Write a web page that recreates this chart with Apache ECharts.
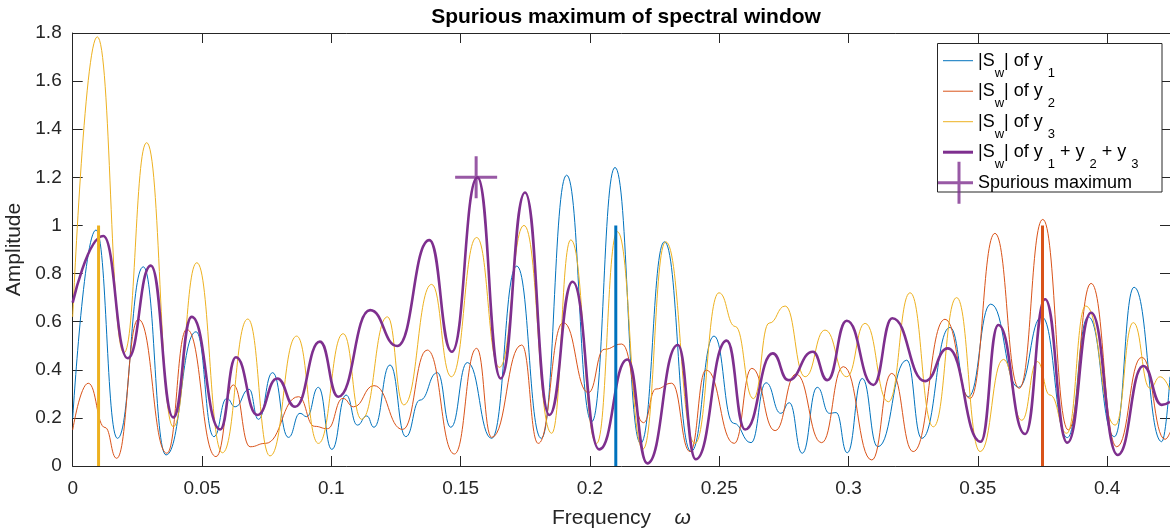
<!DOCTYPE html>
<html>
<head>
<meta charset="utf-8">
<title>Spurious maximum of spectral window</title>
<script src="https://cdn.jsdelivr.net/npm/echarts@6/dist/echarts.min.js"></script>
<style>
html, body { margin: 0; padding: 0; background: #fff; }
#chart { width: 1170px; height: 529px; }
</style>
</head>
<body>
<div id="chart"></div>
<script>
// peaks / troughs, [frequency, amplitude]
var y1Data = [
  [0, 0.198], [0.009, 0.981], [0.0173, 0.115], [0.0273, 0.828], [0.0361, 0.046], [0.0477, 0.558],
  [0.0546, 0.122], [0.0596, 0.281], [0.0628, 0.246], [0.0682, 0.319], [0.0718, 0.194], [0.0773, 0.388],
  [0.0834, 0.119], [0.0879, 0.219], [0.0905, 0.205], [0.095, 0.327], [0.1002, 0.069], [0.1057, 0.295],
  [0.1101, 0.170], [0.1137, 0.208], [0.1165, 0.161], [0.1227, 0.42], [0.1288, 0.122], [0.1343, 0.274],
  [0.141, 0.388], [0.1462, 0.161], [0.1526, 0.43], [0.162, 0.115], [0.1717, 0.831], [0.1812, 0.115],
  [0.191, 1.209], [0.2007, 0.184], [0.2097, 1.241], [0.2196, 0.094], [0.2288, 0.932], [0.2391, 0.06],
  [0.248, 0.54], [0.2555, 0.178], [0.2623, 0.097], [0.2681, 0.346], [0.2738, 0.219], [0.2771, 0.263],
  [0.2821, 0.053], [0.2879, 0.327], [0.2926, 0.219], [0.2952, 0.222], [0.2995, 0.055], [0.3053, 0.364],
  [0.3113, 0.08], [0.3225, 0.44], [0.3283, 0.115], [0.3392, 0.576], [0.3463, 0.288], [0.355, 0.673],
  [0.3657, 0.327], [0.3747, 0.62], [0.3846, 0.118], [0.3927, 0.62], [0.4028, 0.122], [0.4104, 0.743],
  [0.4211, 0.101], [0.4243, 0.371]
];
var y2Data = [
  [0, 0.15], [0.006, 0.344], [0.0125, 0.16], [0.017, 0.032], [0.0254, 0.61], [0.0364, 0.053],
  [0.0441, 0.568], [0.0554, 0.039], [0.0621, 0.337], [0.0686, 0.08], [0.0745, 0.094], [0.0873, 0.288],
  [0.0935, 0.165], [0.0985, 0.155], [0.1045, 0.281], [0.1086, 0.246], [0.1165, 0.334], [0.1276, 0.152],
  [0.1371, 0.482], [0.1476, 0.05], [0.1562, 0.489], [0.162, 0.119], [0.1736, 0.503], [0.18, 0.094],
  [0.1897, 0.596], [0.1994, 0.305], [0.2055, 0.485], [0.2123, 0.507], [0.2207, 0.18], [0.2255, 0.32],
  [0.2316, 0.344], [0.2387, 0.06], [0.2449, 0.399], [0.2558, 0.094], [0.2626, 0.406], [0.2716, 0.147],
  [0.2797, 0.382], [0.2896, 0.097], [0.298, 0.413], [0.309, 0.025], [0.3167, 0.385], [0.325, 0.06],
  [0.3373, 0.61], [0.347, 0.281], [0.3566, 0.967], [0.366, 0.323], [0.3751, 1.025], [0.385, 0.15],
  [0.3938, 0.759], [0.4037, 0.08], [0.4134, 0.452], [0.4224, 0.111], [0.4243, 0.14]
];
var y3Data = [
  [0, 0.62], [0.0095, 1.784], [0.0198, 0.47], [0.0286, 1.344], [0.0389, 0.163], [0.048, 0.845],
  [0.0579, 0.055], [0.0677, 0.611], [0.0763, 0.042], [0.0866, 0.54], [0.095, 0.094], [0.1046, 0.55],
  [0.1117, 0.194], [0.1217, 0.62], [0.128, 0.254], [0.1388, 0.755], [0.1464, 0.371], [0.1562, 0.95],
  [0.165, 0.41], [0.1745, 1.0], [0.1852, 0.136], [0.1926, 0.94], [0.2026, 0.094], [0.2106, 0.974],
  [0.2205, 0.07], [0.2293, 0.932], [0.2406, 0.094], [0.2499, 0.72], [0.2562, 0.58], [0.2632, 0.28],
  [0.2693, 0.594], [0.2755, 0.665], [0.2832, 0.371], [0.2909, 0.565], [0.2993, 0.371], [0.3064, 0.593],
  [0.3154, 0.267], [0.3238, 0.72], [0.3328, 0.163], [0.3418, 0.70], [0.3509, 0.06], [0.3599, 0.443],
  [0.367, 0.19], [0.373, 0.434], [0.3779, 0.295], [0.3844, 0.136], [0.3917, 0.665], [0.4031, 0.17],
  [0.4101, 0.596], [0.4166, 0.323], [0.4205, 0.371], [0.4243, 0.316]
];
var sumData = [
  [0, 0.679], [0.0118, 0.956], [0.0213, 0.448], [0.0302, 0.833], [0.0389, 0.202], [0.046, 0.62],
  [0.057, 0.152], [0.0631, 0.452], [0.0714, 0.212], [0.0791, 0.364], [0.086, 0.246], [0.0956, 0.517],
  [0.1027, 0.288], [0.115, 0.648], [0.1255, 0.499], [0.1379, 0.939], [0.1466, 0.475], [0.1565, 1.20],
  [0.1655, 0.364], [0.1749, 1.137], [0.1843, 0.212], [0.1933, 0.766], [0.2036, 0.069], [0.2145, 0.443],
  [0.2222, 0.011], [0.234, 0.503], [0.2409, 0.028], [0.2529, 0.521], [0.26, 0.152], [0.2707, 0.468],
  [0.2767, 0.357], [0.2862, 0.475], [0.2918, 0.357], [0.2993, 0.604], [0.3096, 0.337], [0.3169, 0.614],
  [0.3296, 0.353], [0.3384, 0.489], [0.3511, 0.101], [0.3579, 0.586], [0.3683, 0.133], [0.376, 0.693],
  [0.3846, 0.097], [0.3938, 0.637], [0.4041, 0.046], [0.414, 0.416], [0.4211, 0.254], [0.4243, 0.267]
];
// true frequencies of y3, y1, y2 (unit amplitude stems)
var stemFreq = [0.01, 0.21, 0.375];
var stemAmp = 1;
var spuriousMax = [0.156, 1.2];

var xTicks = 0.05, xMax = 0.4243;
var yTicks = 0.2, yMax = 1.8;

var colBlue = '#0072BD', colOrange = '#D95319', colYellow = '#EDB120', colPurple = '#7E2F8E';
var axisCol = '#262626';
var font = 'Liberation Sans, Arial, Helvetica, sans-serif';

var thinIcon = 'path://M0,0 M35,42 M5,20.5 L35,20.5 L35,21.5 L5,21.5 Z';
var thickIcon = 'path://M0,0 M35,42 M5,19.5 L35,19.5 L35,22.5 L5,22.5 Z';
var plusIcon = 'path://M0,19.5 L35,19.5 L35,22.5 L0,22.5 Z M19.5,0 L22.5,0 L22.5,42 L19.5,42 Z';
var plusMark = 'path://M0,19.5 L42,19.5 L42,22.5 L0,22.5 Z M19.5,0 L22.5,0 L22.5,42 L19.5,42 Z';

var legendText = {
  y1: '|S{s|w}| of y {s|1}',
  y2: '|S{s|w}| of y {s|2}',
  y3: '|S{s|w}| of y {s|3}',
  sum: '|S{s|w}| of y {s|1} + y {s|2} + y {s|3}',
  'Spurious maximum': 'Spurious maximum'
};

function stemSeries(f, color) {
  return {
    type: 'line', data: [[f, 0], [f, stemAmp]], symbol: 'none',
    lineStyle: { color: color, width: 3 }, itemStyle: { color: color }, z: 4
  };
}
function curve(name, data, color, width) {
  return {
    name: name, type: 'line', data: data, symbol: 'none',
    smooth: 0.5, smoothMonotone: 'x',
    lineStyle: { color: color, width: width }, itemStyle: { color: color }
  };
}

var tickAxis = {
  axisLine: { show: true, onZero: false, lineStyle: { color: axisCol, width: 1 } },
  axisTick: { show: true, inside: true, length: 10, lineStyle: { color: axisCol } },
  splitLine: { show: false }
};

var chart = echarts.init(document.getElementById('chart'));
chart.setOption({
  animation: false,
  backgroundColor: '#fff',
  title: {
    text: 'Spurious maximum of spectral window',
    left: 621, top: 2, textAlign: 'center',
    textStyle: { fontFamily: font, fontSize: 21, fontWeight: 'bold', color: '#000' }
  },
  grid: { left: 72.7, right: 0, top: 33, bottom: 63, containLabel: false, outerBoundsMode: 'none' },
  xAxis: [
    Object.assign({}, tickAxis, {
      type: 'value', min: 0, max: xMax, interval: xTicks, position: 'bottom',
      name: 'Frequency    {w|ω}', nameLocation: 'middle', nameGap: 42,
      nameTextStyle: { fontFamily: font, fontSize: 21, color: axisCol,
        rich: { w: { fontFamily: font, fontSize: 21, fontStyle: 'italic', color: axisCol } } },
      axisLabel: { fontFamily: font, fontSize: 19, color: axisCol, margin: 13, showMaxLabel: false }
    }),
    Object.assign({}, tickAxis, {
      type: 'value', min: 0, max: xMax, interval: xTicks, position: 'top',
      axisLabel: { show: false }
    })
  ],
  yAxis: [
    Object.assign({}, tickAxis, {
      type: 'value', min: 0, max: yMax, interval: yTicks, position: 'left',
      name: 'Amplitude', nameLocation: 'middle', nameGap: 44,
      nameTextStyle: { fontFamily: font, fontSize: 21, color: axisCol },
      axisLabel: { fontFamily: font, fontSize: 19, color: axisCol, margin: 11 }
    }),
    Object.assign({}, tickAxis, {
      type: 'value', min: 0, max: yMax, interval: yTicks, position: 'right',
      axisLabel: { show: false }
    })
  ],
  legend: {
    orient: 'vertical', left: 938, top: 39.7, padding: 0,
    itemWidth: 35, itemHeight: 42, itemGap: -11.5, z: 6,
    itemStyle: { borderWidth: 0 },
    data: [
      { name: 'y1', icon: thinIcon }, { name: 'y2', icon: thinIcon }, { name: 'y3', icon: thinIcon },
      { name: 'sum', icon: thickIcon }, { name: 'Spurious maximum', icon: plusIcon }
    ],
    formatter: function (name) { return legendText[name]; },
    textStyle: {
      fontFamily: font, fontSize: 18, color: '#000', lineHeight: 38,
      rich: { s: { fontFamily: font, fontSize: 13, lineHeight: 14, verticalAlign: 'bottom', color: '#000' } }
    }
  },
  graphic: [{
    type: 'rect', z: 5, silent: true,
    shape: { x: 937.5, y: 43.5, width: 224.5, height: 148.5 },
    style: { fill: '#fff', stroke: axisCol, lineWidth: 1 }
  }],
  series: [
    curve('y1', y1Data, colBlue, 1),
    curve('y2', y2Data, colOrange, 1),
    curve('y3', y3Data, colYellow, 1),
    curve('sum', sumData, colPurple, 2.6),
    stemSeries(stemFreq[0], colYellow),
    stemSeries(stemFreq[1], colBlue),
    stemSeries(stemFreq[2], colOrange),
    {
      name: 'Spurious maximum', type: 'scatter', data: [spuriousMax],
      symbol: plusMark, symbolSize: 42, itemStyle: { color: colPurple }, z: 4
    }
  ]
});
</script>
</body>
</html>
